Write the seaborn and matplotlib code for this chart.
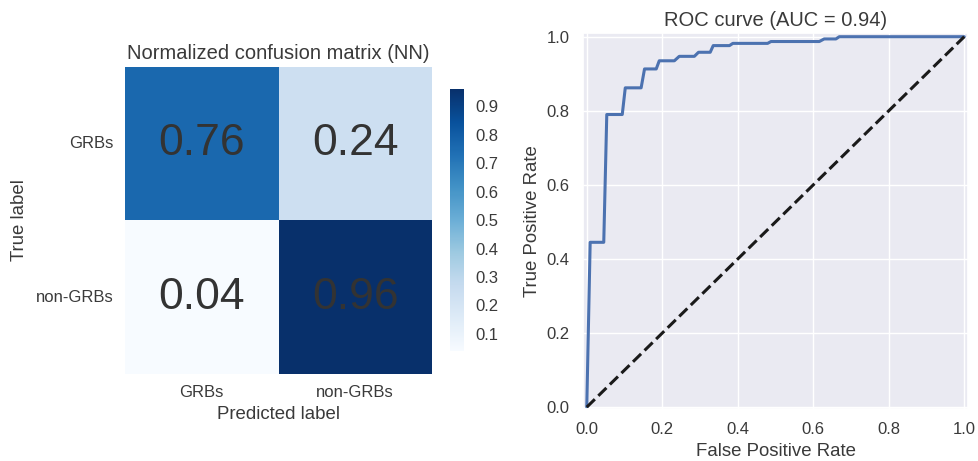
import numpy as np
import pandas as pd
import matplotlib
matplotlib.use("Agg")
import matplotlib.pyplot as plt
import seaborn as sns

# Confusion matrix (row-normalized) for the neural network classifier
class_names = ["GRBs", "non-GRBs"]
cm_row_grbs = [0.76, 0.24]
cm_row_non = [0.04, 0.96]

# ROC curve points
fpr = [0.0, 0.009, 0.045, 0.053, 0.094, 0.102, 0.144, 0.153, 0.184, 0.192,
       0.232, 0.245, 0.285, 0.296, 0.327, 0.335, 0.378, 0.387, 0.479, 0.488,
       0.616, 0.629, 0.660, 0.669, 1.0]
tpr = [0.0, 0.445, 0.445, 0.790, 0.790, 0.862, 0.862, 0.913, 0.913, 0.935,
       0.935, 0.947, 0.947, 0.958, 0.958, 0.976, 0.976, 0.982, 0.982, 0.987,
       0.987, 0.994, 0.994, 1.0, 1.0]
auc_value = 0.94

sns.set_theme(style="darkgrid")
plt.rcParams["font.family"] = ["Liberation Sans", "DejaVu Sans"]
text_color = "#3a3a3a"
plt.rcParams["text.color"] = text_color
plt.rcParams["axes.labelcolor"] = text_color
plt.rcParams["xtick.color"] = text_color
plt.rcParams["ytick.color"] = text_color

title_size = 14.5
label_size = 13.4
tick_size = 12

fig = plt.figure(figsize=(9.79, 4.61), dpi=100)

# --- Confusion matrix heatmap ---
ax_cm = fig.add_axes([0.1277, 0.1887, 0.3136, 0.666])
ax_cb = fig.add_axes([0.4597, 0.2386, 0.0143, 0.568])

cm = pd.DataFrame([cm_row_grbs, cm_row_non], index=class_names, columns=class_names)
sns.heatmap(cm, ax=ax_cm, cbar_ax=ax_cb, cmap="Blues", annot=True, fmt=".2f",
            vmin=min(cm_row_non[0], cm_row_grbs[1]), vmax=cm_row_non[1],
            annot_kws={"size": 32, "color": "#333333"})
ax_cm.set_title("Normalized confusion matrix (NN)", fontsize=title_size, pad=6)
ax_cm.set_xlabel("Predicted label", fontsize=label_size, labelpad=4)
ax_cm.set_ylabel("True label", fontsize=label_size, labelpad=6)
ax_cm.tick_params(axis="both", labelsize=tick_size, length=0)
ax_cm.tick_params(axis="y", pad=8)
ax_cm.tick_params(axis="x", pad=8)
ax_cm.set_yticklabels(class_names, rotation=0)
ax_cm.set_xticklabels(class_names, rotation=0)
ax_cb.set_yticks([0.1, 0.2, 0.3, 0.4, 0.5, 0.6, 0.7, 0.8, 0.9])
ax_cb.tick_params(labelsize=tick_size, length=0, pad=8)
for s in ax_cb.spines.values():
    s.set_visible(False)

# --- ROC curve ---
ax_roc = fig.add_axes([0.5955, 0.1128, 0.3933, 0.8156])
sns.lineplot(x=fpr, y=tpr, ax=ax_roc, color="#4c72b0", linewidth=2.2,
             sort=False, estimator=None)
ax_roc.plot([0, 1], [0, 1], "k--", linewidth=2.2)
ax_roc.set_xlim(-0.01, 1.01)
ax_roc.set_ylim(-0.005, 1.01)
ax_roc.set_xticks(np.arange(0, 1.01, 0.2))
ax_roc.set_yticks(np.arange(0, 1.01, 0.2))
ax_roc.set_xlabel("False Positive Rate", fontsize=label_size)
ax_roc.set_ylabel("True Positive Rate", fontsize=label_size)
ax_roc.set_title(f"ROC curve (AUC = {auc_value:.2f})", fontsize=title_size, pad=5)
ax_roc.tick_params(labelsize=tick_size)

fig.savefig("out.png", dpi=100)
